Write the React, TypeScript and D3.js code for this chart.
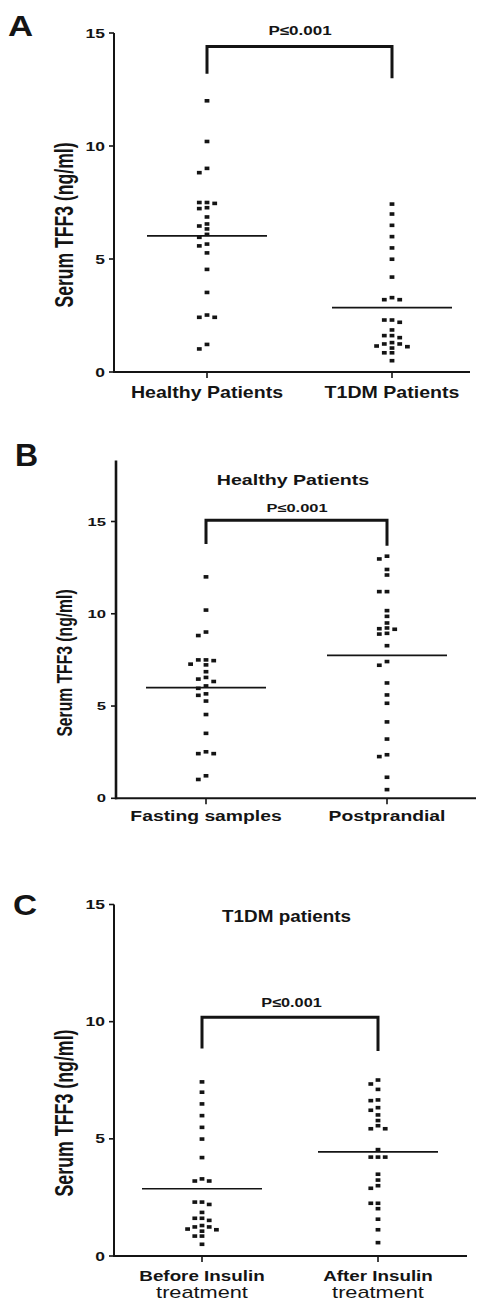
import React from 'react';
import * as d3 from 'd3';

// ---------- DATA ----------
const healthyFasting = [
  12.0, 10.2, 9.01, 8.82, 7.5, 7.5, 7.46, 7.27, 7.23, 6.86, 6.55, 6.46, 6.33,
  6.09, 5.96, 5.66, 5.58, 5.27, 4.54, 3.52, 2.52, 2.42, 2.42, 1.22, 1.02,
];
const t1dmBefore = [
  7.43, 6.99, 6.49, 5.99, 5.49, 4.99, 4.2, 3.29, 3.2, 3.2, 2.3, 2.3, 2.2, 1.86,
  1.61, 1.61, 1.52, 1.3, 1.24, 1.24, 1.15, 1.12, 1.06, 0.85, 0.85, 0.5,
];
const postprandial = [
  13.12, 12.97, 12.4, 12.1, 11.2, 11.2, 10.17, 9.86, 9.5, 9.23, 9.19, 9.16, 8.94,
  8.9, 8.27, 7.41, 7.21, 6.25, 5.6, 5.15, 4.14, 3.21, 2.36, 2.26, 1.14, 0.47,
];
const afterInsulin = [
  7.51, 7.34, 7.11, 6.66, 6.63, 6.33, 6.22, 6.02, 5.78, 5.56, 5.43, 5.43, 4.54,
  4.22, 4.22, 4.22, 3.49, 3.24, 3.0, 2.89, 2.25, 2.25, 2.02, 1.57, 1.12, 0.57,
];

const catsA = ['Healthy Patients', 'T1DM Patients'];
const catsB = ['Fasting samples', 'Postprandial'];
const catsC = ['Before Insulin', 'After Insulin'];
const catsCSub = ['treatment', 'treatment'];

const meansA = [6.02, 2.85];
const meansB = [6.0, 7.75];
const meansC = [2.87, 4.44];

const yTicks = [0, 5, 10, 15];
const yLabel = 'Serum TFF3 (ng/ml)';
const pLabel = 'P\u22640.001';
const titleB = 'Healthy Patients';
const titleC = 'T1DM patients';

// bracket leg ends (value units): [top, leftEnd, rightEnd]
const bracketA = [14.4, 13.2, 13.0];
const bracketB = [15.07, 13.78, 13.69];
const bracketC = [10.19, 8.86, 8.75];

const FONT = "'Liberation Sans', Arial, Helvetica, sans-serif";
const INK = '#141414';

type TProps = {
  x: number; y: number; size: number; sx?: number; anchor?: string;
  weight?: number; rotate?: boolean; children: React.ReactNode;
};
function T({ x, y, size, sx = 1, anchor = 'middle', weight = 700, rotate = false, children }: TProps) {
  const tr = `translate(${x},${y}) scale(${sx},1)` + (rotate ? ' rotate(-90)' : '');
  return (
    <text
      transform={tr}
      fontSize={size}
      fontWeight={weight}
      textAnchor={anchor}
      dominantBaseline={rotate ? 'central' : undefined}
      fontFamily={FONT}
      fill={INK}
    >
      {children}
    </text>
  );
}

function swarm(values: number[], y: (v: number) => number, slotW: number, minDy: number) {
  const placed: { slot: number; py: number }[] = [];
  const order = values.map((_, i) => i).sort((a, b) => values[b] - values[a]);
  const res: { dx: number; py: number }[] = new Array(values.length);
  for (const i of order) {
    const py = y(values[i]);
    for (let k = 0; k < 30; k++) {
      const slot = k === 0 ? 0 : k % 2 === 1 ? -Math.ceil(k / 2) : Math.ceil(k / 2);
      if (!placed.some((p) => p.slot === slot && Math.abs(p.py - py) < minDy)) {
        placed.push({ slot, py });
        res[i] = { dx: slot * slotW, py };
        break;
      }
    }
  }
  return res;
}

type PanelCfg = {
  letter: { t: string; x: number; y: number; size: number; sx: number };
  yRange: [number, number];
  axisTop: number;
  axisX: number;
  axisRight: number;
  axisW: number;
  catRange: [number, number];
  cats: string[];
  catsSub?: string[];
  series: number[][];
  means: number[];
  tick: { right: number; size: number; sx: number };
  catLabel: { y: number; size: number; sx: number; y2?: number; size2?: number; sx2?: number };
  yLab: { x: number; y: number; size: number; sx: number };
  bracket: number[];
  p: { x: number; y: number; size: number; sx: number };
  title?: { t: string; x: number; y: number; size: number; sx: number };
  slotW: number;
};

function Panel({ c }: { c: PanelCfg }) {
  const y = d3.scaleLinear().domain([0, 15]).range(c.yRange);
  const x = d3.scalePoint<string>().domain(c.cats).range(c.catRange);
  const y0 = y(0);
  const half = 60;
  return (
    <g>
      <T x={c.letter.x} y={c.letter.y} size={c.letter.size} sx={c.letter.sx} anchor="start">
        {c.letter.t}
      </T>
      {c.title && (
        <T x={c.title.x} y={c.title.y} size={c.title.size} sx={c.title.sx}>
          {c.title.t}
        </T>
      )}
      <T x={c.yLab.x} y={c.yLab.y} size={c.yLab.size} sx={c.yLab.sx} rotate>
        {yLabel}
      </T>
      {/* y axis */}
      <line x1={c.axisX} x2={c.axisX} y1={y(c.axisTop)} y2={y0 + 1} stroke={INK} strokeWidth={c.axisW} />
      {yTicks.map((t) => (
        <g key={t}>
          <line x1={c.axisX - 5} x2={c.axisX} y1={y(t)} y2={y(t)} stroke={INK} strokeWidth={1.6} />
          <T x={c.tick.right} y={y(t) + c.tick.size * 0.36} size={c.tick.size} sx={c.tick.sx} anchor="end">
            {t}
          </T>
        </g>
      ))}
      {/* x axis */}
      <line x1={c.axisX - 1} x2={c.axisRight} y1={y0} y2={y0} stroke={INK} strokeWidth={2} />
      {c.cats.map((cat, i) => {
        const cx = x(cat)!;
        return (
          <g key={cat}>
            <line x1={cx} x2={cx} y1={y0} y2={y0 + 6} stroke={INK} strokeWidth={1.6} />
            <T x={cx} y={c.catLabel.y} size={c.catLabel.size} sx={c.catLabel.sx}>
              {cat}
            </T>
            {c.catsSub && (
              <T x={cx} y={c.catLabel.y2!} size={c.catLabel.size2!} sx={c.catLabel.sx2!} weight={400}>
                {c.catsSub[i]}
              </T>
            )}
          </g>
        );
      })}
      {/* points */}
      {c.series.map((vals, si) => {
        const cx = x(c.cats[si])!;
        const pos = swarm(vals, y, c.slotW, 4.6);
        return (
          <g key={si}>
            {pos.map((p, i) => (
              <rect key={i} x={cx + p.dx - 2.4} y={p.py - 1.8} width={4.8} height={3.6} fill={INK} />
            ))}
            <line
              x1={cx - half}
              x2={cx + half}
              y1={y(c.means[si])}
              y2={y(c.means[si])}
              stroke={INK}
              strokeWidth={1.7}
            />
          </g>
        );
      })}
      {/* bracket */}
      <path
        d={`M${x(c.cats[0])},${y(c.bracket[1])}V${y(c.bracket[0])}H${x(c.cats[1])}V${y(c.bracket[2])}`}
        fill="none"
        stroke={INK}
        strokeWidth={3}
      />
      <T x={c.p.x} y={c.p.y} size={c.p.size} sx={c.p.sx}>
        {pLabel}
      </T>
    </g>
  );
}

const panels: PanelCfg[] = [
  {
    letter: { t: 'A', x: 8, y: 36, size: 29, sx: 1.2 },
    yRange: [372, 33],
    axisTop: 15,
    axisX: 114,
    axisRight: 470,
    axisW: 2,
    catRange: [207, 392],
    cats: catsA,
    series: [healthyFasting, t1dmBefore],
    means: meansA,
    tick: { right: 105, size: 12.5, sx: 1.4 },
    catLabel: { y: 398, size: 16.3, sx: 1.2 },
    yLab: { x: 64, y: 225, size: 17.6, sx: 1.45 },
    bracket: bracketA,
    p: { x: 300, y: 35, size: 13, sx: 1.31 },
    slotW: 7.7,
  },
  {
    letter: { t: 'B', x: 15, y: 466, size: 32, sx: 1.0 },
    yRange: [798.3, 521.5],
    axisTop: 18.3,
    axisX: 116,
    axisRight: 476,
    axisW: 2.6,
    catRange: [206, 387],
    cats: catsB,
    series: [healthyFasting, postprandial],
    means: meansB,
    tick: { right: 106, size: 11.5, sx: 1.45 },
    catLabel: { y: 820.7, size: 14, sx: 1.38 },
    yLab: { x: 64.5, y: 663, size: 15.7, sx: 1.4 },
    bracket: bracketB,
    p: { x: 297, y: 511.7, size: 11.5, sx: 1.43 },
    title: { t: titleB, x: 293, y: 484.5, size: 14, sx: 1.4 },
    slotW: 7.7,
  },
  {
    letter: { t: 'C', x: 13, y: 915, size: 29, sx: 1.15 },
    yRange: [1256, 904.5],
    axisTop: 15,
    axisX: 114,
    axisRight: 467,
    axisW: 2,
    catRange: [202, 378],
    cats: catsC,
    catsSub: catsCSub,
    series: [t1dmBefore, afterInsulin],
    means: meansC,
    tick: { right: 105, size: 12.5, sx: 1.4 },
    catLabel: { y: 1281, size: 15.3, sx: 1.23, y2: 1297.7, size2: 16, sx2: 1.36 },
    yLab: { x: 64.5, y: 1113, size: 17.8, sx: 1.42 },
    bracket: bracketC,
    p: { x: 291.5, y: 1007, size: 13, sx: 1.25 },
    title: { t: titleC, x: 286.5, y: 921.5, size: 16, sx: 1.18 },
    slotW: 7.2,
  },
];

export default function App() {
  return (
    <svg
      width={481}
      height={1302}
      viewBox="0 0 481 1302"
      style={{ position: 'absolute', left: 0, top: 0, background: '#fff' }}
    >
      <rect width={481} height={1302} fill="#fff" />
      {panels.map((p, i) => (
        <Panel key={i} c={p} />
      ))}
    </svg>
  );
}
